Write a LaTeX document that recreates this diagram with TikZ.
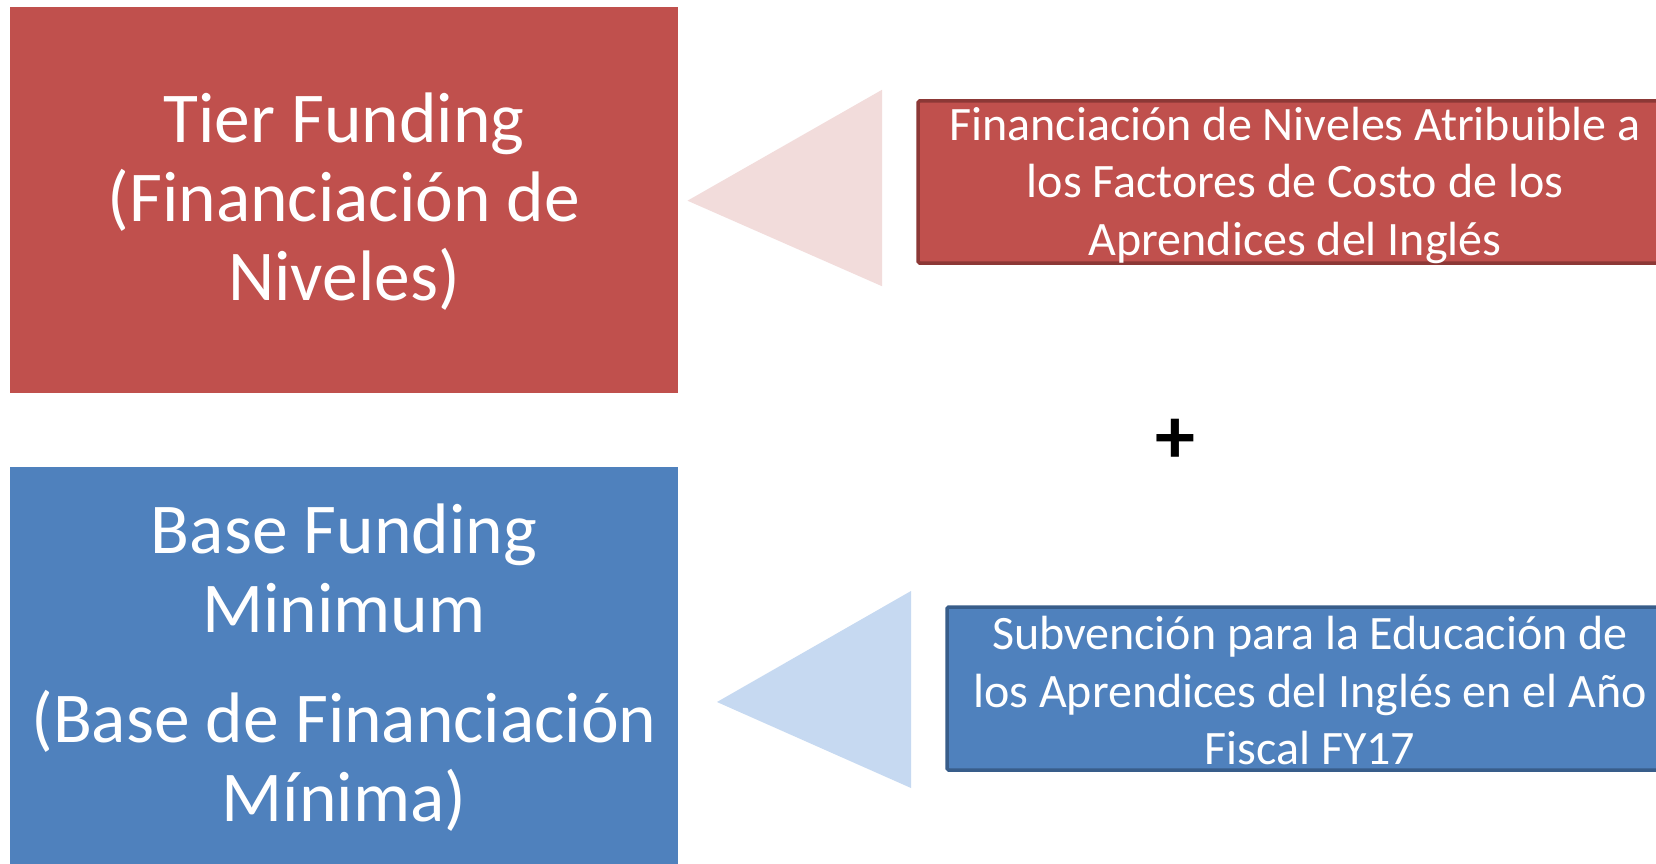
\documentclass[tikz,border=0pt]{standalone}
\usepackage{fontspec}
\setmainfont{Carlito}
\definecolor{tierred}{HTML}{C0504D}
\definecolor{tierdark}{HTML}{8C3836}
\definecolor{tierpale}{HTML}{F2DCDB}
\definecolor{baseblue}{HTML}{4F81BD}
\definecolor{basedark}{HTML}{385D8A}
\definecolor{basepale}{HTML}{C6D9F1}
\tikzset{
  bigtext/.style={text=white, align=center, inner sep=0pt, font=\fontsize{71.5}{79}\selectfont},
  smalltext/.style={text=white, align=center, inner sep=0pt, font=\fontsize{48}{57.5}\selectfont},
  sidebox/.style={line width=3.5pt, rounded corners=1.5pt},
}
\begin{document}
\begin{tikzpicture}[x=1pt,y=-1pt]
\useasboundingbox (0,0) rectangle (1656,864);
\clip (0,0) rectangle (1656,864);
\fill[white] (0,0) rectangle (1656,864);
% left boxes
\fill[tierred] (9.5,7.4) rectangle (678,393);
\fill[baseblue] (9.5,467) rectangle (678,880);
% triangles
\fill[tierpale] (687.5,200.7) -- (882,89.8) -- (882,286.2) -- cycle;
\fill[basepale] (717,702) -- (911,591) -- (911,788) -- cycle;
% right boxes
\draw[sidebox, draw=tierdark, fill=tierred] (918,101) rectangle (1700,263);
\draw[sidebox, draw=basedark, fill=baseblue] (947,607) rectangle (1700,770);
% texts
\node[bigtext] (tier) at (344,202) {Tier Funding\\(Financiación de\\Niveles)};
\node[bigtext] (base) at (344,668) {Base Funding\\Minimum\\[31pt](Base de Financiación\\Mínima)};
\node[smalltext] (tierfactor) at (1295,185) {Financiación de Niveles Atribuible a\\los Factores de Costo de los\\Aprendices del Inglés};
\node[smalltext] (grant) at (1310,691) {Subvención para la Educación de\\los Aprendices del Inglés en el Año\\Fiscal FY17};
\node[font=\bfseries\fontsize{80}{80}\selectfont, inner sep=0pt] (plus) at (1175.5,441) {+};
\end{tikzpicture}
\end{document}
